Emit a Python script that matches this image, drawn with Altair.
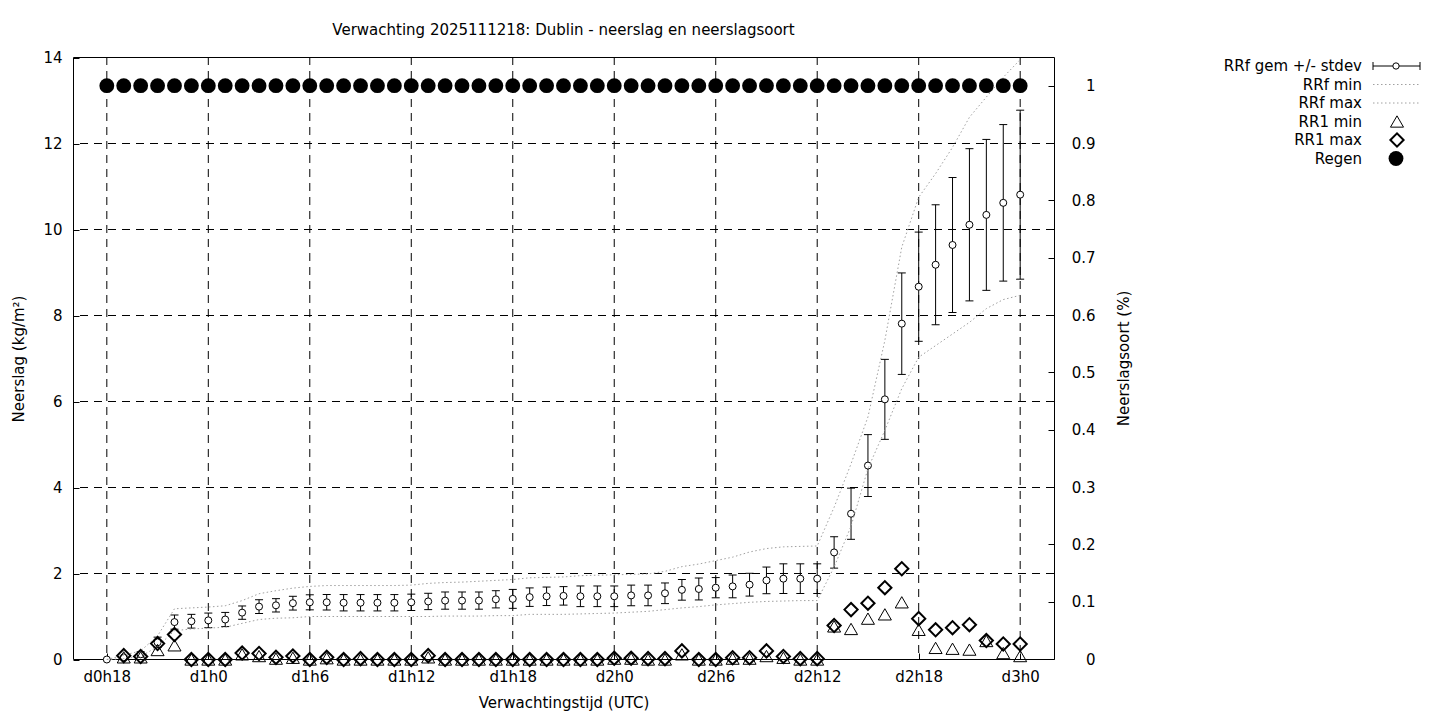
import altair as alt
import pandas as pd

# ---------------- data ----------------
hours = list(range(55))
tick_hours = [0, 6, 12, 18, 24, 30, 36, 42, 48, 54]
grid_levels = [2, 4, 6, 8, 10, 12]
y2_ticks = [0, 0.1, 0.2, 0.3, 0.4, 0.5, 0.6, 0.7, 0.8, 0.9, 1]

rrf_mean = [0.00, 0.05, 0.12, 0.40, 0.87, 0.89, 0.91, 0.93, 1.09, 1.23,
            1.26, 1.31, 1.33, 1.33, 1.32, 1.32, 1.32, 1.32, 1.33, 1.35,
            1.37, 1.37, 1.37, 1.40, 1.41, 1.45, 1.47, 1.48, 1.47, 1.47,
            1.47, 1.49, 1.49, 1.54, 1.62, 1.64, 1.67, 1.70, 1.74, 1.84,
            1.88, 1.88, 1.88, 2.49, 3.39, 4.51, 6.05, 7.81, 8.67, 9.18,
            9.64, 10.11, 10.34, 10.62, 10.81]
rrf_std = [0.00, 0.03, 0.06, 0.12, 0.165, 0.16, 0.17, 0.165, 0.155, 0.16,
           0.155, 0.16, 0.175, 0.18, 0.19, 0.19, 0.19, 0.19, 0.19, 0.19,
           0.20, 0.20, 0.20, 0.20, 0.22, 0.215, 0.215, 0.215, 0.24, 0.24,
           0.24, 0.24, 0.24, 0.24, 0.24, 0.255, 0.235, 0.265, 0.265, 0.31,
           0.345, 0.345, 0.345, 0.365, 0.595, 0.72, 0.93, 1.18, 1.27, 1.395,
           1.57, 1.77, 1.755, 1.82, 1.965]
rrf_min = [0.00, 0.02, 0.07, 0.30, 0.67, 0.71, 0.73, 0.75, 0.84, 0.93,
           0.96, 0.97, 1.00, 1.00, 1.00, 1.00, 1.00, 1.00, 1.00, 1.00,
           1.01, 1.01, 1.01, 1.02, 1.02, 1.05, 1.05, 1.05, 1.06, 1.07,
           1.08, 1.10, 1.12, 1.16, 1.20, 1.23, 1.27, 1.30, 1.33, 1.35,
           1.36, 1.37, 1.37, 2.15, 3.10, 4.44, 5.33, 6.30, 7.03, 7.30,
           7.57, 7.84, 8.16, 8.37, 8.47]
rrf_max = [0.00, 0.10, 0.20, 0.55, 1.18, 1.20, 1.22, 1.25, 1.37, 1.53,
           1.60, 1.66, 1.70, 1.72, 1.72, 1.72, 1.72, 1.72, 1.73, 1.77,
           1.79, 1.80, 1.82, 1.84, 1.86, 1.90, 1.91, 1.92, 1.95, 1.96,
           1.97, 1.98, 1.99, 2.05, 2.16, 2.22, 2.30, 2.38, 2.50, 2.58,
           2.62, 2.63, 2.64, 3.54, 4.55, 5.64, 7.42, 9.59, 10.75, 11.30,
           11.91, 12.61, 13.08, 13.54, 13.95]
rr1_min = [None, 0.05, 0.05, 0.22, 0.33, 0.00, 0.00, 0.00, 0.12, 0.08,
           0.02, 0.04, 0.00, 0.03, 0.00, 0.00, 0.00, 0.00, 0.00, 0.05,
           0.00, 0.00, 0.00, 0.00, 0.00, 0.00, 0.00, 0.00, 0.00, 0.00,
           0.02, 0.02, 0.00, 0.00, 0.12, 0.00, 0.00, 0.02, 0.02, 0.08,
           0.04, 0.00, 0.00, 0.77, 0.71, 0.95, 1.05, 1.33, 0.69, 0.27,
           0.25, 0.23, 0.43, 0.15, 0.08]
rr1_max = [None, 0.09, 0.07, 0.37, 0.58, 0.00, 0.00, 0.00, 0.15, 0.14,
           0.05, 0.08, 0.00, 0.05, 0.00, 0.02, 0.00, 0.00, 0.00, 0.09,
           0.00, 0.00, 0.00, 0.00, 0.00, 0.00, 0.00, 0.00, 0.00, 0.00,
           0.03, 0.03, 0.02, 0.02, 0.20, 0.00, 0.00, 0.04, 0.04, 0.20,
           0.07, 0.02, 0.02, 0.79, 1.16, 1.31, 1.67, 2.11, 0.95, 0.69,
           0.74, 0.81, 0.44, 0.36, 0.36]
regen = [1, 1, 1, 1, 1, 1, 1, 1, 1, 1, 1, 1, 1, 1, 1, 1, 1, 1, 1, 1,
         1, 1, 1, 1, 1, 1, 1, 1, 1, 1, 1, 1, 1, 1, 1, 1, 1, 1, 1, 1,
         1, 1, 1, 1, 1, 1, 1, 1, 1, 1, 1, 1, 1, 1, 1]

legend_labels = ["RRf gem +/- stdev", "RRf min", "RRf max", "RR1 min", "RR1 max", "Regen"]
title_text = "Verwachting 2025111218: Dublin - neerslag en neerslagsoort"

df = pd.DataFrame({
    "hour": hours, "mean": rrf_mean, "std": rrf_std,
    "rmin": rrf_min, "rmax": rrf_max,
    "rr1min": rr1_min, "rr1max": rr1_max, "regen": regen,
})
df["lo"] = df["mean"] - df["std"]
df["hi"] = df["mean"] + df["std"]

FONT = "DejaVu Sans"
FS = 15
DOT = "#a0a0a0"
GRID_DASH = [8, 6]

xscale = alt.Scale(domain=[-2, 56], nice=False, zero=False)
yscale = alt.Scale(domain=[0, 14], nice=False, zero=True, range=[602.5, 0.5])
x_axis = alt.Axis(values=tick_hours, grid=False, domain=False, tickSize=6, offset=-6,
                  labelPadding=10.5,
                  labelExpr="'d' + floor((datum.value + 18) / 24) + 'h' + ((datum.value + 18) % 24)",
                  title="Verwachtingstijd (UTC)", titlePadding=11)
y_axis = alt.Axis(values=[0, 2, 4, 6, 8, 10, 12, 14], grid=False, domain=False, tickSize=6, offset=-6,
                  labelPadding=11, title="Neerslag (kg/m²)", titlePadding=16)

X = alt.X("hour:Q", scale=xscale, axis=x_axis)


def Y(field):
    return alt.Y(field, type="quantitative", scale=yscale, axis=y_axis)


gx = alt.Chart(pd.DataFrame({"hour": tick_hours})).mark_rule(
    color="black", strokeDash=GRID_DASH, strokeWidth=1).encode(x=X)
gy = alt.Chart(pd.DataFrame({"g": grid_levels})).mark_rule(
    color="black", strokeDash=GRID_DASH, strokeWidth=1).encode(y=Y("g"))

base = alt.Chart(df)
bars = base.mark_rule(color="black", strokeWidth=1).encode(x=X, y=Y("lo"), y2="hi")
cap_hi = base.mark_tick(orient="horizontal", size=8, thickness=1, color="black", opacity=1).encode(x=X, y=Y("hi"))
cap_lo = base.mark_tick(orient="horizontal", size=8, thickness=1, color="black", opacity=1).encode(x=X, y=Y("lo"))
means = base.mark_point(shape="circle", filled=True, fill="white", stroke="black", strokeWidth=1,
                        size=49, opacity=1).encode(x=X, y=Y("mean"))
line_min = base.mark_line(color=DOT, strokeDash=[1.5, 2.5], strokeWidth=1).encode(x=X, y=Y("rmin"))
line_max = base.mark_line(color=DOT, strokeDash=[1.5, 2.5], strokeWidth=1).encode(x=X, y=Y("rmax"))
tri = base.transform_filter("isValid(datum.rr1min)").mark_point(
    shape="triangle-up", filled=False, color="black", strokeWidth=1, size=170, opacity=1
).encode(x=X, y=Y("rr1min"))
dia = base.transform_filter("isValid(datum.rr1max)").mark_point(
    shape="diamond", filled=False, color="black", strokeWidth=2, size=175, opacity=1
).encode(x=X, y=Y("rr1max"))

left = alt.layer(gx, gy, bars, cap_hi, cap_lo, means, line_min, line_max, tri, dia)

y2_axis = alt.Axis(orient="right", values=y2_ticks, format="~g", grid=False, domain=False,
                   tickSize=6, offset=-6, labelPadding=41, labelAlign="right",
                   title="Neerslagsoort (%)", titleAngle=270, titlePadding=36)
rain = base.mark_point(shape="circle", filled=True, color="black", size=220, opacity=1).encode(
    x=X, y=alt.Y("regen:Q", scale=alt.Scale(domain=[0, 1.05], nice=False, zero=True), axis=y2_axis))

# ---------------- legend (top right) ----------------
LX_TEXT = 1289
LX_SYM = 1323
LX0, LX1 = 1300, 1347
rows = [9, 27.5, 46, 64.5, 83, 101.5]
leg_layers = []
for lab, yy in zip(legend_labels, rows):
    leg_layers.append(
        alt.Chart(pd.DataFrame({"t": [lab]})).mark_text(
            align="right", baseline="middle", font=FONT, fontSize=FS, color="black"
        ).encode(x=alt.value(LX_TEXT), y=alt.value(yy), text="t:N"))
one = pd.DataFrame({"t": [0]})
leg_layers += [
    alt.Chart(one).mark_rule(color="black").encode(x=alt.value(LX0), x2=alt.value(LX1), y=alt.value(rows[0])),
    alt.Chart(one).mark_rule(color="black").encode(x=alt.value(LX0), y=alt.value(rows[0] - 4), y2=alt.value(rows[0] + 4)),
    alt.Chart(one).mark_rule(color="black").encode(x=alt.value(LX1), y=alt.value(rows[0] - 4), y2=alt.value(rows[0] + 4)),
    alt.Chart(one).mark_point(shape="circle", filled=True, fill="white", stroke="black", strokeWidth=1, size=40,
                              opacity=1).encode(x=alt.value(LX_SYM), y=alt.value(rows[0])),
    alt.Chart(one).mark_rule(color=DOT, strokeDash=[1.5, 2.5]).encode(x=alt.value(LX0), x2=alt.value(LX1), y=alt.value(rows[1])),
    alt.Chart(one).mark_rule(color=DOT, strokeDash=[1.5, 2.5]).encode(x=alt.value(LX0), x2=alt.value(LX1), y=alt.value(rows[2])),
    alt.Chart(one).mark_point(shape="triangle-up", filled=False, color="black", strokeWidth=1, size=170,
                              opacity=1).encode(x=alt.value(LX_SYM + 1), y=alt.value(rows[3])),
    alt.Chart(one).mark_point(shape="diamond", filled=False, color="black", strokeWidth=2, size=175,
                              opacity=1).encode(x=alt.value(LX_SYM + 1), y=alt.value(rows[4])),
    alt.Chart(one).mark_point(shape="circle", filled=True, color="black", size=220,
                              opacity=1).encode(x=alt.value(LX_SYM), y=alt.value(rows[5])),
]

chart = alt.layer(left, rain, *leg_layers).resolve_scale(y="independent").properties(
    width=981, height=602,
    padding={"left": 65, "top": 49, "right": 378, "bottom": 53},
    autosize=alt.AutoSizeParams(type="none"),
    title=alt.TitleParams(text=title_text, font=FONT, fontSize=FS, fontWeight="normal", color="black",
                          anchor="middle", frame="group", baseline="middle", offset=6),
).configure(
    background="white",
).configure_view(
    stroke="black", strokeWidth=1,
).configure_axis(
    labelFont=FONT, labelFontSize=FS, labelColor="black",
    titleFont=FONT, titleFontSize=FS, titleFontWeight="normal", titleColor="black",
    tickColor="black", tickWidth=1,
)

chart.save("out.html", embed_options={"renderer": "svg", "actions": False})
